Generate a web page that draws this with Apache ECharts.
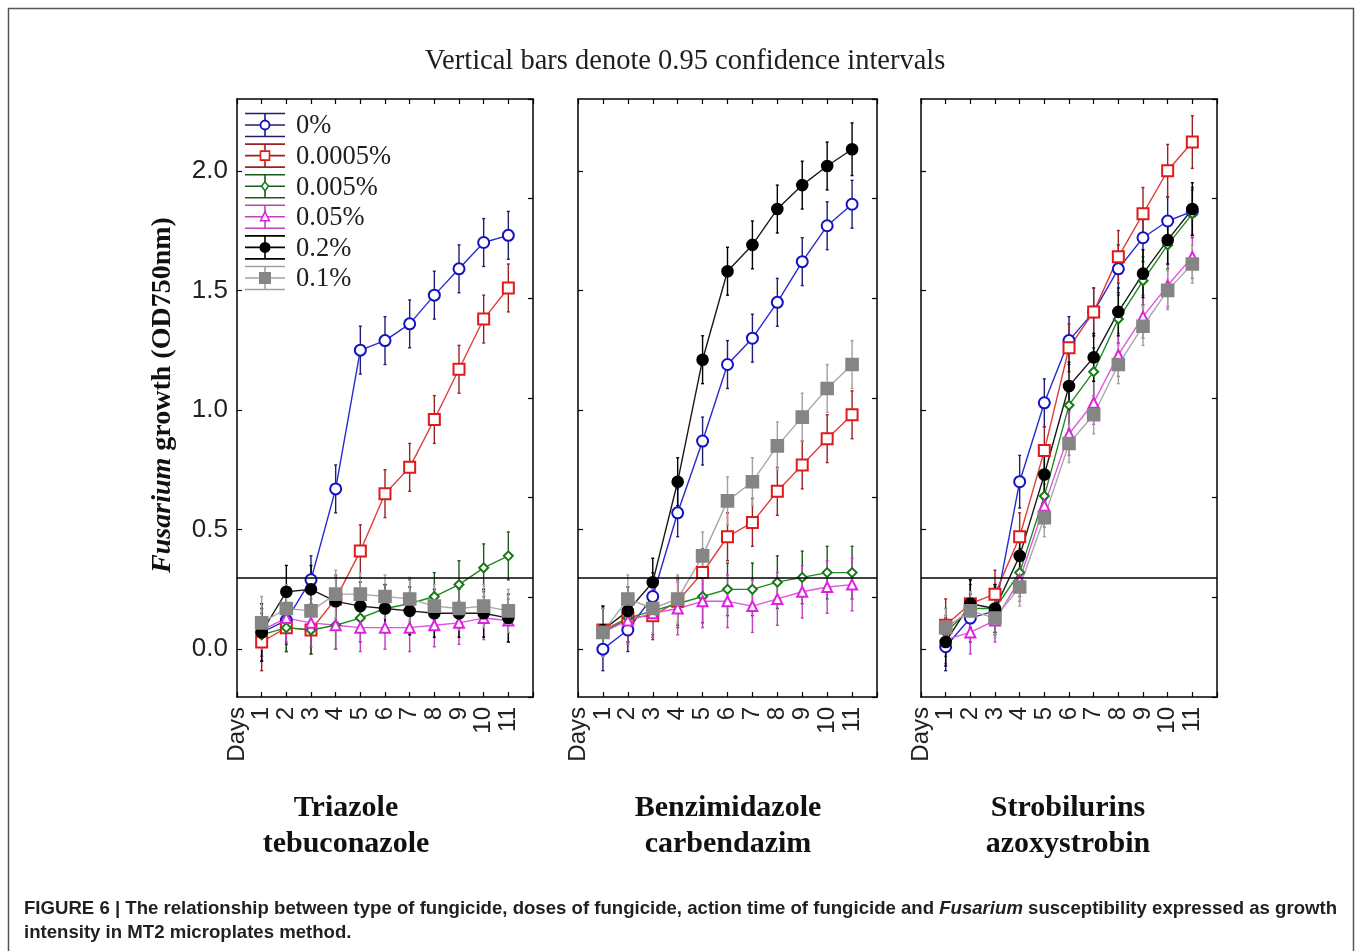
<!DOCTYPE html>
<html>
<head>
<meta charset="utf-8">
<script src="https://cdn.jsdelivr.net/npm/echarts@6/dist/echarts.min.js"></script>
<style>
html,body{margin:0;padding:0;background:#fff;}
#chart{width:1357px;height:951px;}
</style>
</head>
<body>
<div id="chart"></div>
<script>
// ---- data -------------------------------------------------------------
const days = [1, 2, 3, 4, 5, 6, 7, 8, 9, 10, 11];
const doseNames = ['0%', '0.0005%', '0.005%', '0.05%', '0.2%', '0.1%'];
const panelTitles = [
  ['Triazole', 'tebuconazole'],
  ['Benzimidazole', 'carbendazim'],
  ['Strobilurins', 'azoxystrobin']
];
const yTickValues = [0, 0.5, 1.0, 1.5, 2.0];
const thresholdOD = 0.3;

// Triazole / tebuconazole — mean OD750 per day
const triMean0     = [0.07, 0.12, 0.29, 0.67, 1.25, 1.29, 1.36, 1.48, 1.59, 1.70, 1.73];
const triMean00005 = [0.03, 0.09, 0.08, 0.21, 0.41, 0.65, 0.76, 0.96, 1.17, 1.38, 1.51];
const triMean0005  = [0.06, 0.09, 0.08, 0.10, 0.13, 0.17, 0.19, 0.22, 0.27, 0.34, 0.39];
const triMean005   = [0.08, 0.13, 0.11, 0.10, 0.09, 0.09, 0.09, 0.10, 0.11, 0.13, 0.12];
const triMean02    = [0.07, 0.24, 0.25, 0.20, 0.18, 0.17, 0.16, 0.15, 0.15, 0.15, 0.13];
const triMean01    = [0.11, 0.17, 0.16, 0.23, 0.23, 0.22, 0.21, 0.18, 0.17, 0.18, 0.16];
// half-widths of the 0.95 confidence intervals
const triCi0     = [0.10, 0.10, 0.10, 0.10, 0.10, 0.10, 0.10, 0.10, 0.10, 0.10, 0.10];
const triCi00005 = [0.12, 0.10, 0.10, 0.10, 0.11, 0.10, 0.10, 0.10, 0.10, 0.10, 0.10];
const triCi0005  = [0.11, 0.10, 0.10, 0.10, 0.10, 0.10, 0.10, 0.10, 0.10, 0.10, 0.10];
const triCi005   = [0.11, 0.10, 0.10, 0.10, 0.10, 0.09, 0.10, 0.09, 0.09, 0.09, 0.09];
const triCi02    = [0.12, 0.11, 0.10, 0.10, 0.10, 0.10, 0.10, 0.10, 0.10, 0.10, 0.10];
const triCi01    = [0.11, 0.10, 0.10, 0.10, 0.09, 0.09, 0.09, 0.09, 0.09, 0.09, 0.09];

// Benzimidazole / carbendazim
const benMean0     = [0.00, 0.08, 0.22, 0.57, 0.87, 1.19, 1.30, 1.45, 1.62, 1.77, 1.86];
const benMean00005 = [0.08, 0.13, 0.14, 0.20, 0.32, 0.47, 0.53, 0.66, 0.77, 0.88, 0.98];
const benMean0005  = [0.07, 0.13, 0.16, 0.19, 0.22, 0.25, 0.25, 0.28, 0.30, 0.32, 0.32];
const benMean005   = [0.07, 0.12, 0.15, 0.17, 0.20, 0.20, 0.18, 0.21, 0.24, 0.26, 0.27];
const benMean02    = [0.08, 0.16, 0.28, 0.70, 1.21, 1.58, 1.69, 1.84, 1.94, 2.02, 2.09];
const benMean01    = [0.07, 0.21, 0.17, 0.21, 0.39, 0.62, 0.70, 0.85, 0.97, 1.09, 1.19];
const benCi0     = [0.09, 0.09, 0.10, 0.10, 0.10, 0.10, 0.10, 0.10, 0.10, 0.10, 0.10];
const benCi00005 = [0.10, 0.10, 0.10, 0.10, 0.10, 0.10, 0.10, 0.10, 0.10, 0.10, 0.10];
const benCi0005  = [0.10, 0.10, 0.10, 0.10, 0.11, 0.11, 0.11, 0.11, 0.11, 0.11, 0.11];
const benCi005   = [0.10, 0.10, 0.10, 0.11, 0.11, 0.11, 0.11, 0.11, 0.11, 0.11, 0.11];
const benCi02    = [0.10, 0.10, 0.10, 0.10, 0.10, 0.10, 0.10, 0.10, 0.10, 0.10, 0.11];
const benCi01    = [0.10, 0.10, 0.10, 0.10, 0.10, 0.10, 0.10, 0.10, 0.10, 0.10, 0.10];

// Strobilurins / azoxystrobin
const strMean0     = [0.01, 0.13, 0.16, 0.70, 1.03, 1.29, 1.41, 1.59, 1.72, 1.79, 1.83];
const strMean00005 = [0.10, 0.19, 0.23, 0.47, 0.83, 1.26, 1.41, 1.64, 1.82, 2.00, 2.12];
const strMean0005  = [0.07, 0.17, 0.17, 0.32, 0.64, 1.02, 1.16, 1.38, 1.54, 1.69, 1.82];
const strMean005   = [0.04, 0.07, 0.12, 0.29, 0.60, 0.90, 1.03, 1.23, 1.39, 1.52, 1.64];
const strMean02    = [0.03, 0.19, 0.17, 0.39, 0.73, 1.10, 1.22, 1.41, 1.57, 1.71, 1.84];
const strMean01    = [0.09, 0.16, 0.13, 0.26, 0.55, 0.86, 0.98, 1.19, 1.35, 1.50, 1.61];
const strCi0     = [0.10, 0.10, 0.10, 0.11, 0.10, 0.10, 0.10, 0.10, 0.10, 0.10, 0.10];
const strCi00005 = [0.11, 0.10, 0.10, 0.10, 0.10, 0.10, 0.10, 0.11, 0.11, 0.11, 0.11];
const strCi0005  = [0.10, 0.10, 0.10, 0.10, 0.10, 0.10, 0.10, 0.10, 0.10, 0.10, 0.10];
const strCi005   = [0.10, 0.09, 0.09, 0.09, 0.09, 0.09, 0.09, 0.09, 0.09, 0.09, 0.09];
const strCi02    = [0.10, 0.10, 0.10, 0.10, 0.10, 0.10, 0.10, 0.10, 0.10, 0.10, 0.11];
const strCi01    = [0.08, 0.08, 0.08, 0.08, 0.08, 0.08, 0.08, 0.08, 0.08, 0.08, 0.08];

// ---- styling ----------------------------------------------------------
const doseStyles = [
  { line: '#2a2ad2', mark: '#1212c4', err: '#1e1e72', symbol: 'emptyCircle',   size: 11, shape: 'circle' },
  { line: '#e03c3c', mark: '#e01a1a', err: '#9c2222', symbol: 'emptyRect',     size: 11, shape: 'rect' },
  { line: '#1f8a1f', mark: '#167816', err: '#1a5a1a', symbol: 'emptyDiamond',  size: 9,  shape: 'diamond' },
  { line: '#e055e0', mark: '#e020e0', err: '#c040c0', symbol: 'emptyTriangle', size: 10, shape: 'triangle' },
  { line: '#1a1a1a', mark: '#000000', err: '#000000', symbol: 'circle',        size: 11, shape: 'dot' },
  { line: '#a8a8a8', mark: '#858585', err: '#a0a0a0', symbol: 'rect',          size: 12, shape: 'square' }
];

const panels = [
  { means: [triMean0, triMean00005, triMean0005, triMean005, triMean02, triMean01],
    cis:   [triCi0, triCi00005, triCi0005, triCi005, triCi02, triCi01] },
  { means: [benMean0, benMean00005, benMean0005, benMean005, benMean02, benMean01],
    cis:   [benCi0, benCi00005, benCi0005, benCi005, benCi02, benCi01] },
  { means: [strMean0, strMean00005, strMean0005, strMean005, strMean02, strMean01],
    cis:   [strCi0, strCi00005, strCi0005, strCi005, strCi02, strCi01] }
];

const grids = [
  { left: 237, top: 99, width: 296, height: 598 },
  { left: 578, top: 99, width: 299, height: 598 },
  { left: 921, top: 99, width: 296, height: 598 }
];
const titleCenters = [346, 728, 1068];

const AXIS = '#000';
const LABEL = '#222';
const SANS = '"Liberation Sans", Arial, sans-serif';
const SERIF = '"Liberation Serif", "Times New Roman", serif';

// ---- axes -------------------------------------------------------------
const xAxes = [];
const yAxes = [];
grids.forEach((g, p) => {
  xAxes.push({
    gridIndex: p, type: 'value', position: 'bottom', min: 0, max: days.length + 1, interval: 1,
    axisLine: { show: true, onZero: false, lineStyle: { color: AXIS, width: 1.5 } },
    axisTick: { show: true, inside: true, length: 5, lineStyle: { color: AXIS, width: 1.2 } },
    splitLine: { show: false },
    axisLabel: {
      rotate: 90, margin: 10, fontSize: 24, fontFamily: SANS, color: LABEL,
      showMinLabel: true, showMaxLabel: true,
      formatter: v => (v === 0 ? 'Days' : (days.indexOf(v) >= 0 ? String(v) : ''))
    }
  });
  xAxes.push({
    gridIndex: p, type: 'value', position: 'top', min: 0, max: days.length + 1, interval: 1,
    axisLine: { show: true, onZero: false, lineStyle: { color: AXIS, width: 1.5 } },
    axisTick: { show: true, inside: true, length: 5, lineStyle: { color: AXIS, width: 1.2 } },
    axisLabel: { show: false }, splitLine: { show: false }
  });
  yAxes.push({
    gridIndex: p, type: 'value', position: 'left', min: -0.2, max: 2.3,
    axisLine: { show: true, onZero: false, lineStyle: { color: AXIS, width: 1.5 } },
    axisTick: { show: true, inside: true, length: 5, customValues: yTickValues, lineStyle: { color: AXIS, width: 1.2 } },
    axisLabel: {
      show: p === 0, customValues: yTickValues, margin: 9, fontSize: 26, fontFamily: SANS, color: LABEL,
      formatter: v => v.toFixed(1)
    },
    splitLine: { show: false }
  });
  yAxes.push({
    gridIndex: p, type: 'value', position: 'right', min: 0, max: 6, interval: 1,
    axisLine: { show: true, onZero: false, lineStyle: { color: AXIS, width: 1.5 } },
    axisTick: { show: true, inside: true, length: 5, lineStyle: { color: AXIS, width: 1.2 } },
    axisLabel: { show: false }, splitLine: { show: false }
  });
});

// ---- series -----------------------------------------------------------
function errorRenderer(color) {
  return function (params, api) {
    const x = api.value(0);
    const lo = api.coord([x, api.value(1)]);
    const hi = api.coord([x, api.value(2)]);
    const st = { stroke: color, lineWidth: 1.4 };
    return {
      type: 'group',
      children: [
        { type: 'line', shape: { x1: lo[0], y1: lo[1], x2: hi[0], y2: hi[1] }, style: st },
        { type: 'line', shape: { x1: lo[0] - 1.5, y1: lo[1], x2: lo[0] + 1.5, y2: lo[1] }, style: st },
        { type: 'line', shape: { x1: hi[0] - 1.5, y1: hi[1], x2: hi[0] + 1.5, y2: hi[1] }, style: st }
      ]
    };
  };
}

const series = [];
panels.forEach((panel, p) => {
  panel.means.forEach((mean, d) => {
    const s = doseStyles[d];
    const ci = panel.cis[d];
    series.push({
      type: 'custom', name: doseNames[d] + ' CI',
      xAxisIndex: p * 2, yAxisIndex: p * 2,
      renderItem: errorRenderer(s.err),
      encode: { x: 0, y: [1, 2] },
      data: days.map((day, i) => [day, mean[i] - ci[i], mean[i] + ci[i]]),
      silent: true, z: 2
    });
    const line = {
      type: 'line', name: doseNames[d],
      xAxisIndex: p * 2, yAxisIndex: p * 2,
      data: days.map((day, i) => [day, mean[i]]),
      symbol: s.symbol, symbolSize: s.size, showAllSymbol: true,
      itemStyle: { color: s.mark, borderColor: s.mark, borderWidth: 1.6 },
      lineStyle: { color: s.line, width: 1.4 },
      silent: true, z: 3
    };
    if (d === 0) {
      line.markLine = {
        silent: true, symbol: ['none', 'none'], label: { show: false },
        lineStyle: { color: '#000', width: 1.6, type: 'solid' },
        data: [{ yAxis: thresholdOD }]
      };
    }
    series.push(line);
  });
});

// ---- legend drawn inside the first panel ------------------------------
const legendItems = [];
doseNames.forEach((name, d) => {
  const s = doseStyles[d];
  const cy = 125 + d * 30.6;
  const cx = 265;
  const ls = { stroke: s.err, lineWidth: 1.6 };
  legendItems.push({ type: 'line', shape: { x1: 245, y1: cy - 11.5, x2: 285, y2: cy - 11.5 }, style: ls, z: 20 });
  legendItems.push({ type: 'line', shape: { x1: 245, y1: cy, x2: 285, y2: cy }, style: ls, z: 20 });
  legendItems.push({ type: 'line', shape: { x1: 245, y1: cy + 11.5, x2: 285, y2: cy + 11.5 }, style: ls, z: 20 });
  legendItems.push({ type: 'line', shape: { x1: cx, y1: cy - 11.5, x2: cx, y2: cy + 11.5 }, style: ls, z: 20 });
  let mk;
  if (s.shape === 'circle') {
    mk = { type: 'circle', shape: { cx: cx, cy: cy, r: 4.5 }, style: { fill: '#fff', stroke: s.mark, lineWidth: 1.8 } };
  } else if (s.shape === 'rect') {
    mk = { type: 'rect', shape: { x: cx - 4.5, y: cy - 4.5, width: 9, height: 9 }, style: { fill: '#fff', stroke: s.mark, lineWidth: 1.6 } };
  } else if (s.shape === 'diamond') {
    mk = { type: 'polygon', shape: { points: [[cx, cy - 4.5], [cx + 3.5, cy], [cx, cy + 4.5], [cx - 3.5, cy]] }, style: { fill: '#fff', stroke: s.mark, lineWidth: 1.5 } };
  } else if (s.shape === 'triangle') {
    mk = { type: 'polygon', shape: { points: [[cx, cy - 5], [cx + 4.5, cy + 4], [cx - 4.5, cy + 4]] }, style: { fill: '#fff', stroke: s.mark, lineWidth: 1.5 } };
  } else if (s.shape === 'dot') {
    mk = { type: 'circle', shape: { cx: cx, cy: cy, r: 5.5 }, style: { fill: s.mark } };
  } else {
    mk = { type: 'rect', shape: { x: cx - 6, y: cy - 6, width: 12, height: 12 }, style: { fill: s.mark } };
  }
  mk.z = 21;
  legendItems.push(mk);
  legendItems.push({
    type: 'text', x: 296, y: cy + 1.5, z: 21,
    style: { text: name, font: '26.5px ' + SERIF, fill: '#1e1e1e', align: 'left', verticalAlign: 'middle' }
  });
});

// ---- caption, scaled horizontally to the figure width -----------------
const captionLine1 = 'FIGURE 6 | The relationship between type of fungicide, doses of fungicide, action time of fungicide and ';
const captionItalic = 'Fusarium';
const captionLine1b = ' susceptibility expressed as growth';
const captionLine2 = 'intensity in MT2 microplates method.';
const captionFont = 'bold 19px "Liberation Sans", Arial, sans-serif';
const captionItalicFont = 'italic bold 19px "Liberation Sans", Arial, sans-serif';
const mctx = document.createElement('canvas').getContext('2d');
mctx.font = captionFont;
let capW = mctx.measureText(captionLine1).width + mctx.measureText(captionLine1b).width;
mctx.font = captionItalicFont;
capW += mctx.measureText(captionItalic).width;
const captionScale = 1313 / capW;

const graphics = [
  // outer frame (open at the bottom)
  { type: 'polyline', shape: { points: [[8.5, 960], [8.5, 8.5], [1353.5, 8.5], [1353.5, 960]] },
    style: { stroke: '#555', lineWidth: 1.5, fill: null }, silent: true },
  { type: 'text', x: 685, y: 62,
    style: { text: 'Vertical bars denote 0.95 confidence intervals', font: '28.5px ' + SERIF, fill: '#1e1e1e', align: 'center', verticalAlign: 'middle' } },
  { type: 'text', x: 163, y: 395, rotation: Math.PI / 2,
    style: {
      text: '{it|Fusarium} growth (OD750nm)',
      font: 'bold 28px ' + SERIF, fill: '#111', align: 'center', verticalAlign: 'middle',
      rich: { it: { font: 'italic bold 28px ' + SERIF, fill: '#111' } }
    } },
  { type: 'text', x: 24, y: 909, scaleX: captionScale,
    style: {
      text: captionLine1 + '{it|' + captionItalic + '}' + captionLine1b,
      font: captionFont, fill: '#231f20', align: 'left', verticalAlign: 'middle',
      rich: { it: { font: captionItalicFont, fill: '#231f20' } }
    } },
  { type: 'text', x: 24, y: 933, scaleX: captionScale,
    style: { text: captionLine2, font: captionFont, fill: '#231f20', align: 'left', verticalAlign: 'middle' } }
];
panelTitles.forEach((t, p) => {
  graphics.push({ type: 'text', x: titleCenters[p], y: 808,
    style: { text: t[0], font: 'bold 30px ' + SERIF, fill: '#111', align: 'center', verticalAlign: 'middle' } });
  graphics.push({ type: 'text', x: titleCenters[p], y: 844,
    style: { text: t[1], font: 'bold 30px ' + SERIF, fill: '#111', align: 'center', verticalAlign: 'middle' } });
});
legendItems.forEach(it => graphics.push(it));

// ---- chart ------------------------------------------------------------
const chart = echarts.init(document.getElementById('chart'), null, { renderer: 'canvas' });
chart.setOption({
  backgroundColor: '#fff',
  animation: false,
  grid: grids,
  xAxis: xAxes,
  yAxis: yAxes,
  series: series,
  graphic: { elements: graphics }
});
</script>
</body>
</html>
